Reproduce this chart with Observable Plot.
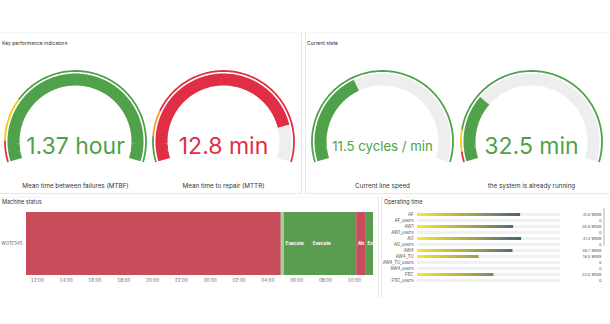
<!DOCTYPE html>
<html><head><meta charset="utf-8">
<script src="https://cdn.jsdelivr.net/npm/d3@7"></script>
<script src="https://cdn.jsdelivr.net/npm/@observablehq/plot@0.6"></script>
<style>
body{margin:0;background:#fff;font-family:Inter,"Noto Sans",sans-serif;}
#root{position:relative;width:610px;height:324px;overflow:hidden;background:#fff;}
.panel{position:absolute;box-sizing:border-box;border:1px solid #e8e8e8;border-top-color:#f6f6f6;}
.title{position:absolute;font-size:5px;line-height:6px;color:#333;white-space:nowrap;}
.abs{position:absolute;}
</style></head>
<body><div id="root"></div>
<script>
// ---------- data ----------
const panelTitles = ["Key performance indicators", "Current state", "Machine status", "Operating time"];

const gaugeLabels = ["Mean time between failures (MTBF)", "Mean time to repair (MTTR)", "Current line speed", "the system is already running"];
const gaugeValues = [1.37, 12.8, 11.5, 32.5];
const gaugeUnits = ["hour", "min", "cycles / min", "min"];
const gaugeMin = [0, 0, 0, 0];
const gaugeMax = [1.2, 15, 30, 120];
const gaugeThresholdSteps = [[0, 0.1, 0.3], [0, 1.5, 3], [0], [0, 5, 15]];
const gaugeThresholdColors = [
  ["#e02f44", "#f2cc0c", "#4fa24a"],
  ["#4fa24a", "#ff9830", "#e02f44"],
  ["#4fa24a"],
  ["#e02f44", "#f2cc0c", "#4fa24a"]
];

const machineRows = ["WO12345"];
const stateRow = ["WO12345", "WO12345", "WO12345", "WO12345", "WO12345", "WO12345"];
const stateStart = ["2023-01-01T11:15Z", "2023-01-02T04:56Z", "2023-01-02T05:09Z", "2023-01-02T07:02Z", "2023-01-02T10:10Z", "2023-01-02T10:50Z"];
const stateEnd = ["2023-01-02T04:56Z", "2023-01-02T05:09Z", "2023-01-02T07:02Z", "2023-01-02T10:10Z", "2023-01-02T10:50Z", "2023-01-02T11:20Z"];
const stateName = ["Stopped", "Idle", "Execute", "Execute", "Aborted", "Execute"];
const stateText = ["", "", "Execute", "Execute", "Aborted", "Execute"];
const stateKinds = ["Stopped", "Idle", "Execute", "Aborted"];
const stateColors = ["#c84d5a", "#a3d197", "#5a9d50", "#c84d5a"];
const timeDomain = ["2023-01-01T11:15Z", "2023-01-02T11:20Z"];

const opNames = ["AF", "AF_users", "AW1", "AW1_users", "AG", "AG_users", "AW4", "AW4_TU", "AW4_TU_users", "AW4_users", "FSC", "FSC_users"];
const opWeeks = [31.0, 0, 28.9, 0, 31.3, 0, 28.7, 18.5, 0, 0, 23.0, 0];
const opMax = 43;

// ---------- layout ----------
const root = document.getElementById("root");
function box(cls, l, t, w, h) {
  const d = document.createElement("div");
  d.className = cls;
  Object.assign(d.style, {left: l + "px", top: t + "px"});
  if (w != null) d.style.width = w + "px";
  if (h != null) d.style.height = h + "px";
  root.appendChild(d);
  return d;
}
box("panel", -1, 32, 303, 162);
box("panel", 305, 32, 306, 162);
const p3 = box("panel", -1, 197, 380, 100); p3.style.borderBottom = "none";
const p4 = box("panel", 381, 197, 230, 100); p4.style.borderBottom = "none";
const titlePos = [[2, 40], [307, 40], [2, 199], [384, 199]];
panelTitles.forEach((t, i) => {
  const d = box("title", titlePos[i][0], titlePos[i][1]);
  d.textContent = t;
  if (i >= 2) { d.style.fontSize = "5.5px"; }
});

// ---------- gauges ----------
const START = 197, SWEEP = 214;
function arcPoints(r, t0, t1) {
  const n = Math.max(2, Math.ceil((t1 - t0) * 160));
  return d3.range(n + 1).map(i => {
    const t = t0 + (t1 - t0) * i / n;
    const a = (START - t * SWEEP) * Math.PI / 180;
    return {x: r * Math.cos(a), y: r * Math.sin(a)};
  });
}
const gaugeCenters = [[75, 141], [223, 141], [382, 141], [531, 141]];
gaugeValues.forEach((v, i) => {
  const lo = gaugeMin[i], hi = gaugeMax[i];
  const frac = v => Math.max(0, Math.min(1, (v - lo) / (hi - lo)));
  const steps = gaugeThresholdSteps[i], cols = gaugeThresholdColors[i];
  let color = cols[0];
  steps.forEach((s, k) => { if (v >= s) color = cols[k]; });
  const marks = [];
  marks.push(Plot.line(arcPoints(62, 0, 1), {x: "x", y: "y", stroke: "#eeeeee", strokeWidth: 12, strokeLinecap: "butt"}));
  marks.push(Plot.line(arcPoints(62, 0, frac(v)), {x: "x", y: "y", stroke: color, strokeWidth: 12, strokeLinecap: "butt"}));
  steps.forEach((s, k) => {
    const t0 = frac(s), t1 = k + 1 < steps.length ? frac(steps[k + 1]) : 1;
    marks.push(Plot.line(arcPoints(70.5, t0, t1), {x: "x", y: "y", stroke: cols[k], strokeWidth: 1.8, strokeLinecap: "butt"}));
  });
  const valueText = `${v} ${gaugeUnits[i]}`;
  const fs = valueText.length > 10 ? 13.2 : 23;
  marks.push(Plot.text([valueText], {text: d => d, frameAnchor: "middle", dy: 5, fontSize: fs, fill: color, fontWeight: 400}));
  marks.push(Plot.text([gaugeLabels[i]], {text: d => d, frameAnchor: "middle", dy: 44, fontSize: 6.3, fill: "#333"}));
  const chart = Plot.plot({
    width: 150, height: 160, margin: 0,
    x: {domain: [-75, 75], axis: null},
    y: {domain: [-80, 80], axis: null},
    style: {background: "transparent", fontFamily: "Inter, sans-serif", overflow: "visible"},
    marks
  });
  chart.style.position = "absolute";
  chart.style.left = (gaugeCenters[i][0] - 75) + "px";
  chart.style.top = (gaugeCenters[i][1] - 80) + "px";
  root.appendChild(chart);
});

// ---------- machine status timeline ----------
const states = stateName.map((s, i) => ({
  row: stateRow[i], start: new Date(stateStart[i]), end: new Date(stateEnd[i]),
  name: s, text: stateText[i], color: stateColors[stateKinds.indexOf(s)]
}));
const tStart = new Date(timeDomain[0]), tEnd = new Date(timeDomain[1]);
const tlOpts = marks => ({
  width: 378, height: 88, marginLeft: 26, marginRight: 5, marginTop: 12, marginBottom: 13,
  x: {type: "utc", domain: [tStart, tEnd], ticks: d3.utcHour.every(2).range(tStart, tEnd), tickFormat: d3.utcFormat("%H:%M"), tickSize: 0, tickPadding: 3, label: null},
  y: {domain: machineRows, padding: 0, tickSize: 0, tickPadding: 4, label: null},
  style: {background: "transparent", fontFamily: "Inter, sans-serif", fontSize: "4.6px", color: "#666"},
  marks
});
const bars = Plot.barX(states, {x1: "start", x2: "end", y: "row", fill: "color", inset: 0});
const probe = Plot.plot(tlOpts([bars]));
const xsc = probe.scale("x");
const ctx = document.createElement("canvas").getContext("2d");
ctx.font = "bold 4.6px Inter";
const pad = 1.2;
states.forEach(d => {
  const w = xsc.apply(d.end) - xsc.apply(d.start);
  let t = d.text;
  while (t.length && pad + ctx.measureText(t).width > w) t = t.slice(0, -1);
  d.label = t;
});
const timeline = Plot.plot({...tlOpts([
  bars,
  Plot.text(states, {x: "start", y: "row", text: "label", textAnchor: "start", dx: pad, fill: "white", fontWeight: 700, fontSize: 4.6})
]), color: {type: "identity"}});
timeline.style.position = "absolute";
timeline.style.left = "0px";
timeline.style.top = "200px";
root.appendChild(timeline);

// ---------- operating time bar gauge ----------
const ops = opNames.map((n, i) => ({name: n, weeks: opWeeks[i]}));
const opChart = Plot.plot({
  width: 229, height: 85, marginLeft: 36, marginRight: 50, marginTop: 2, marginBottom: 2.4,
  x: {domain: [0, opMax], axis: null},
  y: {domain: opNames, padding: 0.5, tickSize: 0, tickPadding: 4, label: null},
  style: {background: "transparent", fontFamily: "Inter, sans-serif", fontSize: "4.4px", color: "#555"},
  marks: [
    Plot.barX(ops, {x: () => opMax, y: "name", fill: "#f1f1f1"}),
    Plot.barX(ops, {x: "weeks", y: "name", fill: "url(#opGrad)"}),
    Plot.text(ops, {y: "name", text: d => d.weeks === 0 ? "0" : d.weeks.toFixed(1) + " week", frameAnchor: "right", dx: 41, textAnchor: "end", fontSize: 4, fill: "#555"})
  ]
});
const ox = opChart.scale("x");
const grad = d3.select(opChart).insert("defs", ":first-child").append("linearGradient")
  .attr("id", "opGrad").attr("gradientUnits", "userSpaceOnUse")
  .attr("x1", ox.apply(0)).attr("x2", ox.apply(opMax)).attr("y1", 0).attr("y2", 0);
[[0, "#f8e82a"], [0.4, "#a3a14a"], [0.7, "#48697a"], [1, "#2a5068"]].forEach(([o, c]) =>
  grad.append("stop").attr("offset", o).attr("stop-color", c));
opChart.style.position = "absolute";
opChart.style.left = "381px";
opChart.style.top = "205px";
root.appendChild(opChart);
const sb = box("abs", 603, 208, 1.5, 38);
sb.style.background = "#d9d9d9";
sb.style.borderRadius = "1px";
</script>
</body></html>
